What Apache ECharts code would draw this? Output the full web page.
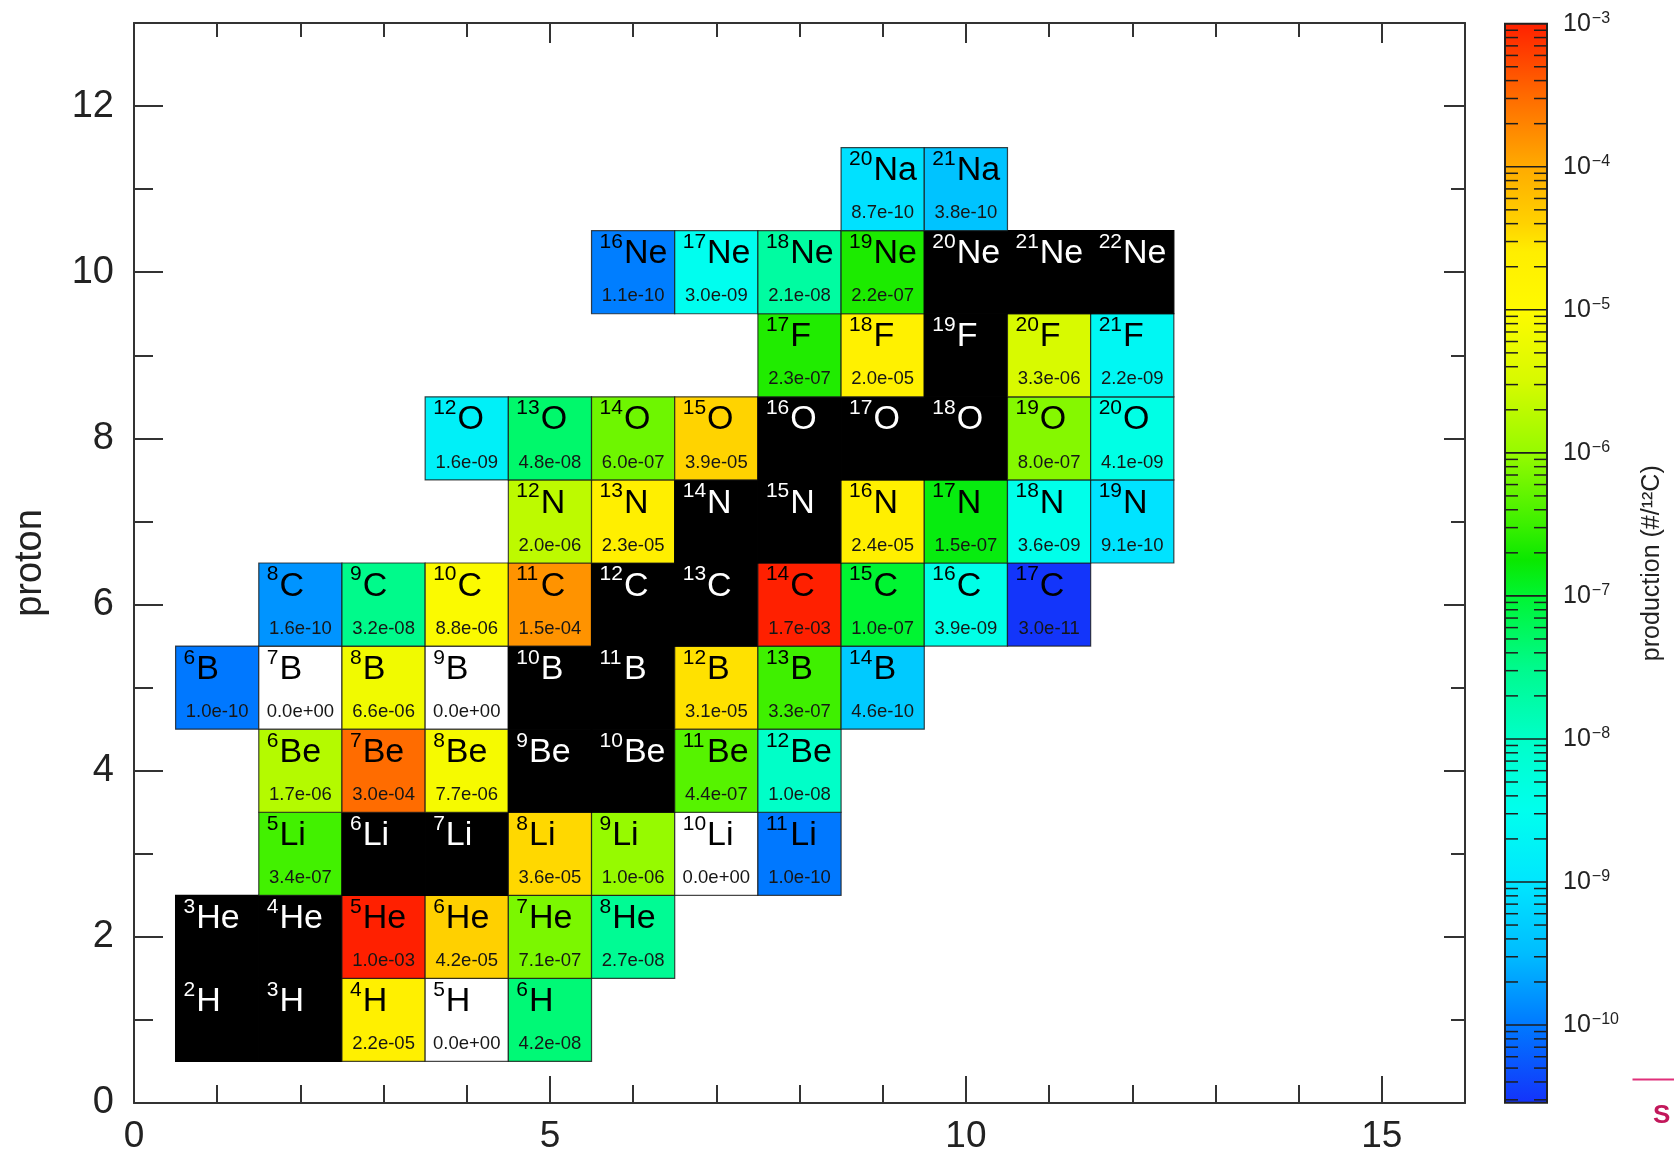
<!DOCTYPE html>
<html>
<head>
<meta charset="utf-8">
<script src="https://cdn.jsdelivr.net/npm/echarts@6/dist/echarts.min.js"></script>
<style>
  html, body { margin: 0; padding: 0; background: #ffffff; }
  #chart { width: 1674px; height: 1160px; }
</style>
</head>
<body>
<div id="chart"></div>
<script>
const FONT = '"Liberation Sans", Arial, Helvetica, sans-serif';

// Element symbols indexed by proton number Z (index 0 unused)
const elementSymbols = ['', 'H', 'He', 'Li', 'Be', 'B', 'C', 'N', 'O', 'F', 'Ne', 'Na'];

// Production per 12C, one row per element: [neutron number, value]
// null = stable nuclide (black cell), 0 = not produced (white cell)
const rowH  = [[1, null], [2, null], [3, 2.2e-5], [4, 0], [5, 4.2e-8]];
const rowHe = [[1, null], [2, null], [3, 1.0e-3], [4, 4.2e-5], [5, 7.1e-7], [6, 2.7e-8]];
const rowLi = [[2, 3.4e-7], [3, null], [4, null], [5, 3.6e-5], [6, 1.0e-6], [7, 0], [8, 1.0e-10]];
const rowBe = [[2, 1.7e-6], [3, 3.0e-4], [4, 7.7e-6], [5, null], [6, null], [7, 4.4e-7], [8, 1.0e-8]];
const rowB  = [[1, 1.0e-10], [2, 0], [3, 6.6e-6], [4, 0], [5, null], [6, null], [7, 3.1e-5], [8, 3.3e-7], [9, 4.6e-10]];
const rowC  = [[2, 1.6e-10], [3, 3.2e-8], [4, 8.8e-6], [5, 1.5e-4], [6, null], [7, null], [8, 1.7e-3], [9, 1.0e-7], [10, 3.9e-9], [11, 3.0e-11]];
const rowN  = [[5, 2.0e-6], [6, 2.3e-5], [7, null], [8, null], [9, 2.4e-5], [10, 1.5e-7], [11, 3.6e-9], [12, 9.1e-10]];
const rowO  = [[4, 1.6e-9], [5, 4.8e-8], [6, 6.0e-7], [7, 3.9e-5], [8, null], [9, null], [10, null], [11, 8.0e-7], [12, 4.1e-9]];
const rowF  = [[8, 2.3e-7], [9, 2.0e-5], [10, null], [11, 3.3e-6], [12, 2.2e-9]];
const rowNe = [[6, 1.1e-10], [7, 3.0e-9], [8, 2.1e-8], [9, 2.2e-7], [10, null], [11, null], [12, null]];
const rowNa = [[9, 8.7e-10], [10, 3.8e-10]];
const rowsByZ = [null, rowH, rowHe, rowLi, rowBe, rowB, rowC, rowN, rowO, rowF, rowNe, rowNa];

// Colour scale (log10 of production) and its bar ticks
const LOG_MIN = -10.543;
const LOG_MAX = -3;
const colorbarDecades = [-11, -10, -9, -8, -7, -6, -5, -4];
const colorbarMinorSteps = [2, 3, 4, 5, 6, 7, 8, 9];

// Palette: log10 value -> rgb
const paletteLog = [-10.543, -10.0, -9.5, -9.0, -8.5, -8.0, -7.5, -7.0, -6.75, -6.5, -6.0, -5.5, -5.0, -4.6, -4.4, -4.0, -3.5, -3.0];
const paletteRgb = [
  [20, 50, 250], [0, 120, 255], [0, 188, 255], [0, 230, 255], [0, 255, 238], [0, 255, 200],
  [0, 250, 140], [0, 245, 50], [10, 232, 0], [60, 240, 0], [150, 250, 0], [215, 250, 0],
  [255, 250, 0], [255, 238, 0], [255, 210, 0], [255, 170, 0], [255, 105, 0], [255, 32, 0]
];

function paletteAt(logv) {
  const t = Math.min(LOG_MAX, Math.max(LOG_MIN, logv));
  for (let i = 1; i < paletteLog.length; i++) {
    if (t <= paletteLog[i]) {
      const f = (t - paletteLog[i - 1]) / (paletteLog[i] - paletteLog[i - 1]);
      const a = paletteRgb[i - 1], b = paletteRgb[i];
      const c = a.map((x, k) => Math.round(x + (b[k] - x) * f));
      return 'rgb(' + c.join(',') + ')';
    }
  }
  return 'rgb(' + paletteRgb[paletteRgb.length - 1].join(',') + ')';
}

function cellColor(v) {
  if (v === null) return '#000000';
  if (v === 0) return '#ffffff';
  return paletteAt(Math.log10(v));
}

function formatValue(v) {
  if (v === 0) return '0.0e+00';
  let exp = Math.floor(Math.log10(v));
  let mant = v / Math.pow(10, exp);
  if (Number(mant.toFixed(1)) >= 10) { mant /= 10; exp += 1; }
  const sign = exp < 0 ? '-' : '+';
  const e = Math.abs(exp);
  return mant.toFixed(1) + 'e' + sign + (e < 10 ? '0' + e : String(e));
}

// Flatten rows into cells
const cells = [];
rowsByZ.forEach((row, z) => {
  if (!row) return;
  row.forEach(([n, v]) => cells.push({ n: n, z: z, v: v }));
});

function renderCell(params, api) {
  const c = cells[params.dataIndex];
  const tl = api.coord([c.n - 0.5, c.z + 0.5]);
  const br = api.coord([c.n + 0.5, c.z - 0.5]);
  const w = br[0] - tl[0];
  const h = br[1] - tl[1];
  const stable = c.v === null;
  const ink = stable ? '#ffffff' : '#000000';
  const mass = String(c.n + c.z);
  const supSize = 21, symSize = 34, valSize = 18.5;
  const supX = tl[0] + 8;
  const symX = supX + mass.length * 0.556 * supSize + 1;
  const children = [
    {
      type: 'rect',
      shape: { x: tl[0], y: tl[1], width: w, height: h },
      style: { fill: cellColor(c.v), stroke: stable ? '#000000' : 'rgba(25,25,25,0.8)', lineWidth: 1.2 }
    },
    {
      type: 'text',
      style: {
        x: supX, y: tl[1] + h * 0.14, text: mass, fill: ink,
        font: supSize + 'px ' + FONT, align: 'left', verticalAlign: 'middle'
      }
    },
    {
      type: 'text',
      style: {
        x: symX, y: tl[1] + h * 0.28, text: elementSymbols[c.z], fill: ink,
        font: symSize + 'px ' + FONT, align: 'left', verticalAlign: 'middle'
      }
    }
  ];
  if (!stable) {
    children.push({
      type: 'text',
      style: {
        x: tl[0] + w / 2, y: tl[1] + h * 0.79, text: formatValue(c.v), fill: '#161616',
        font: valSize + 'px ' + FONT, align: 'center', verticalAlign: 'middle'
      }
    });
  }
  return { type: 'group', children: children };
}

// Colour bar: gradient body, decade lines and minor ticks
const CB_MIN = Math.pow(10, LOG_MIN);
const CB_MAX = Math.pow(10, LOG_MAX);
const gradientStops = paletteLog.map((l, i) => ({
  offset: (l - LOG_MIN) / (LOG_MAX - LOG_MIN),
  color: 'rgb(' + paletteRgb[i].join(',') + ')'
}));

const colorbarTickValues = [];
colorbarDecades.forEach(d => {
  const dec = Math.pow(10, d);
  if (dec > CB_MIN && dec < CB_MAX) colorbarTickValues.push([0.5, dec, 1]);
  colorbarMinorSteps.forEach(m => {
    const v = m * dec;
    if (v > CB_MIN && v < CB_MAX) colorbarTickValues.push([0.5, v, 0]);
  });
});

function renderColorbar(params, api) {
  const top = api.coord([0, CB_MAX]);
  const bot = api.coord([1, CB_MIN]);
  return {
    type: 'rect',
    shape: { x: top[0], y: top[1], width: bot[0] - top[0], height: bot[1] - top[1] },
    style: {
      fill: { type: 'linear', x: 0, y: 1, x2: 0, y2: 0, colorStops: gradientStops },
      stroke: '#222222', lineWidth: 2
    }
  };
}

function renderColorbarTick(params, api) {
  const v = api.value(1);
  const major = api.value(2) === 1;
  const l = api.coord([0, v]);
  const r = api.coord([1, v]);
  if (major) {
    return {
      type: 'line',
      shape: { x1: l[0], y1: l[1], x2: r[0], y2: r[1] },
      style: { stroke: '#1e1e1e', lineWidth: 1.6 }
    };
  }
  const len = 13;
  const st = { stroke: '#1e1e1e', lineWidth: 1.5 };
  return {
    type: 'group',
    children: [
      { type: 'line', shape: { x1: l[0], y1: l[1], x2: l[0] + len, y2: l[1] }, style: st },
      { type: 'line', shape: { x1: r[0] - len, y1: r[1], x2: r[0], y2: r[1] }, style: st }
    ]
  };
}

const AXIS_COLOR = '#333333';
function frameAxis(extra) {
  return Object.assign({
    gridIndex: 0, type: 'value',
    axisLine: { show: false, onZero: false, lineStyle: { color: AXIS_COLOR, width: 2 } },
    axisTick: { show: true, inside: true, lineStyle: { color: AXIS_COLOR, width: 2 } },
    axisLabel: { show: false },
    splitLine: { show: false }
  }, extra);
}

const chart = echarts.init(document.getElementById('chart'), null, { renderer: 'canvas' });

chart.setOption({
  animation: false,
  backgroundColor: '#ffffff',
  grid: [
    { left: 134, top: 23, width: 1331, height: 1080, containLabel: false, outerBoundsMode: 'none' },
    { left: 1505, top: 23.7, width: 42, height: 1079, containLabel: false, outerBoundsMode: 'none' }
  ],
  xAxis: [
    frameAxis({
      position: 'bottom', min: 0, max: 16, interval: 5,
      axisLine: { show: true, onZero: false, lineStyle: { color: AXIS_COLOR, width: 2 } },
      axisTick: { show: true, inside: true, length: 27, lineStyle: { color: AXIS_COLOR, width: 2 } },
      axisLabel: {
        show: true, margin: 15, fontSize: 37, fontFamily: FONT, color: '#222222',
        formatter: v => (v % 5 === 0 ? String(v) : '')
      }
    }),
    frameAxis({ position: 'bottom', min: 0, max: 16, interval: 1,
      axisTick: { show: true, inside: true, length: 18, lineStyle: { color: AXIS_COLOR, width: 2 } } }),
    frameAxis({
      position: 'top', min: 0, max: 16, interval: 5,
      axisLine: { show: true, onZero: false, lineStyle: { color: AXIS_COLOR, width: 2 } },
      axisTick: { show: true, inside: true, length: 20, lineStyle: { color: AXIS_COLOR, width: 2 } }
    }),
    frameAxis({ position: 'top', min: 0, max: 16, interval: 1,
      axisTick: { show: true, inside: true, length: 14, lineStyle: { color: AXIS_COLOR, width: 2 } } }),
    { gridIndex: 1, type: 'value', min: 0, max: 1, show: false }
  ],
  yAxis: [
    frameAxis({
      position: 'left', min: 0, max: 13, interval: 2,
      name: 'proton', nameLocation: 'middle', nameRotate: 90, nameGap: 84,
      nameTextStyle: { fontSize: 38, fontFamily: FONT, color: '#222222' },
      axisLine: { show: true, onZero: false, lineStyle: { color: AXIS_COLOR, width: 2 } },
      axisTick: { show: true, inside: true, length: 29, lineStyle: { color: AXIS_COLOR, width: 2 } },
      axisLabel: {
        show: true, margin: 20, fontSize: 38, fontFamily: FONT, color: '#222222',
        formatter: v => (v % 2 === 0 ? String(v) : '')
      }
    }),
    frameAxis({ position: 'left', min: 0, max: 13, interval: 1,
      axisTick: { show: true, inside: true, length: 19, lineStyle: { color: AXIS_COLOR, width: 2 } } }),
    frameAxis({
      position: 'right', min: 0, max: 13, interval: 2,
      axisLine: { show: true, onZero: false, lineStyle: { color: AXIS_COLOR, width: 2 } },
      axisTick: { show: true, inside: true, length: 21, lineStyle: { color: AXIS_COLOR, width: 2 } }
    }),
    frameAxis({ position: 'right', min: 0, max: 13, interval: 1,
      axisTick: { show: true, inside: true, length: 14, lineStyle: { color: AXIS_COLOR, width: 2 } } }),
    {
      gridIndex: 1, type: 'log', logBase: 10, min: CB_MIN, max: CB_MAX, position: 'right',
      name: 'production (#/¹²C)', nameLocation: 'middle', nameRotate: 90, nameGap: 93,
      nameTextStyle: { fontSize: 25, fontFamily: FONT, color: '#222222' },
      axisLine: { show: false, onZero: false },
      axisTick: { show: false },
      splitLine: { show: false },
      axisLabel: {
        show: true, margin: 16, fontFamily: FONT, color: '#222222',
        formatter: v => {
          const e = Math.log10(v);
          if (Math.abs(e - Math.round(e)) > 1e-6) return '';
          return '{b|10}{s|\u2212' + Math.abs(Math.round(e)) + '}';
        },
        rich: {
          b: { fontSize: 25, fontFamily: FONT, color: '#222222', lineHeight: 26 },
          s: { fontSize: 16, fontFamily: FONT, color: '#222222', lineHeight: 16, verticalAlign: 'top', padding: [0, 0, 0, 1] }
        }
      }
    }
  ],
  series: [
    {
      type: 'custom', name: 'nuclides', xAxisIndex: 0, yAxisIndex: 0,
      renderItem: renderCell,
      data: cells.map(c => [c.n, c.z]),
      encode: { x: 0, y: 1 },
      silent: true, clip: false, z: 2
    },
    {
      type: 'custom', name: 'colorbar', xAxisIndex: 4, yAxisIndex: 4,
      renderItem: renderColorbar,
      data: [[0.5, 1e-6]],
      silent: true, z: 1
    },
    {
      type: 'custom', name: 'colorbar ticks', xAxisIndex: 4, yAxisIndex: 4,
      renderItem: renderColorbarTick,
      data: colorbarTickValues,
      silent: true, z: 3
    }
  ],
  graphic: [
    { type: 'line', left: 1630, top: 1077, shape: { x1: 0, y1: 0, x2: 44, y2: 0 },
      style: { stroke: '#e0307a', lineWidth: 2 }, silent: true },
    { type: 'text', left: 1653, top: 1103,
      style: { text: 'S', fill: '#c2185b', font: 'bold 26px ' + FONT }, silent: true }
  ]
});
</script>
</body>
</html>
